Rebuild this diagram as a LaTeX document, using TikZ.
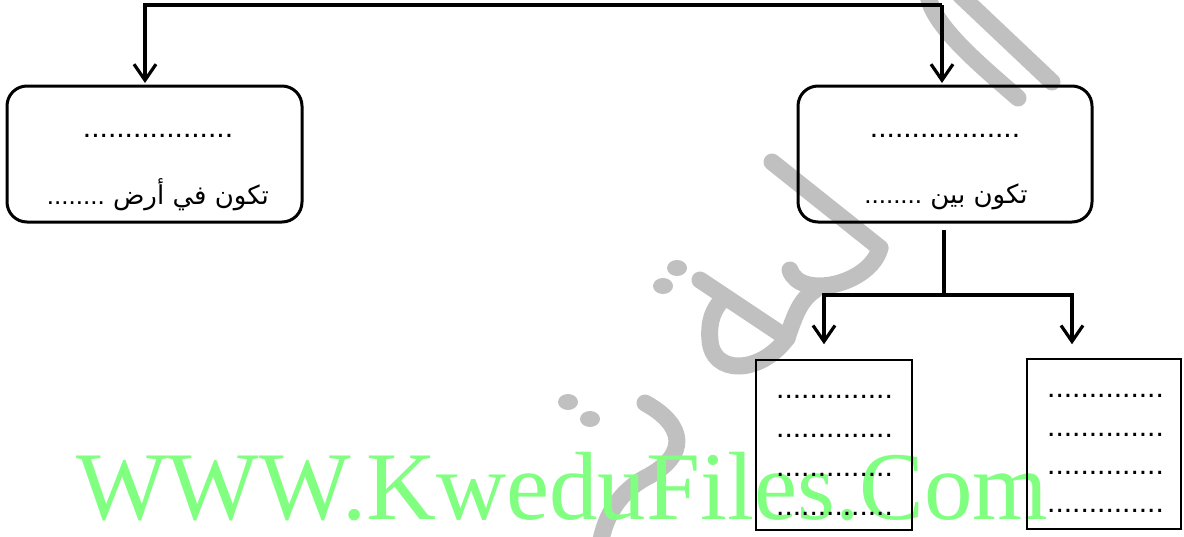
\documentclass[tikz,border=0pt]{standalone}
\usepackage{fontspec}
\usetikzlibrary{arrows.meta}
\TeXXeTstate=1
\newfontfamily\arabicfont[Script=Arabic]{DejaVu Sans}
\newfontfamily\dotsfont{Liberation Sans}
\newfontfamily\wmfont{Liberation Serif}
\definecolor{wmgray}{RGB}{192,192,192}
\definecolor{wmgreen}{RGB}{128,255,128}
\begin{document}
\begin{tikzpicture}[x=1pt,y=-1pt,
  roundbox/.style={draw, line width=3pt, rounded corners=20pt, minimum width=295pt, minimum height=136pt, inner sep=0pt},
  listbox/.style={draw, line width=1.5pt, minimum height=170pt, inner sep=0pt},
  conn/.style={line width=3.2pt},
  arr/.style={conn, -{Straight Barb[length=16pt,width=22pt]}},
  dotline/.style={font=\dotsfont\fontsize{30}{36}\selectfont, anchor=base, inner sep=0pt},
  arline/.style={font=\arabicfont\fontsize{26}{32}\selectfont, anchor=base, inner sep=0pt},
  wm/.style={wmgray, line width=17pt, line cap=round}]
\useasboundingbox (0,0) rectangle (1184,536);
% background watermark strokes
\draw[wm] (928,-5) .. controls (932,25) and (980,65) .. (1018,98);
\draw[wm] (960,-5) -- (1052,82);
\draw[wm] (772,162) -- (880,248);
\draw[wm] (880,248) .. controls (870,285) and (800,300) .. (790,270);
\draw[wm] (787,338) .. controls (795,315) and (800,300) .. (815,290);
\draw[wm] (700,280) -- (787,338);
\draw[wm] (787,338) .. controls (760,375) and (712,375) .. (710,340) .. controls (708,320) and (715,305) .. (725,298);
\fill[wmgray] (677,268) ellipse [x radius=10pt, y radius=8pt];
\fill[wmgray] (663,286) ellipse [x radius=10pt, y radius=8pt];
\fill[wmgray] (568,402) ellipse [x radius=10pt, y radius=8pt];
\fill[wmgray] (590,419) ellipse [x radius=10pt, y radius=8pt];
\draw[wm] (645,403) .. controls (685,425) and (690,455) .. (645,478) .. controls (620,492) and (605,515) .. (600,545);
% green watermark text
\node[font=\wmfont\fontsize{97}{110}\selectfont, text=wmgreen, anchor=base west, inner sep=0pt] (site) at (76,519) {WWW.KweduFiles.Com};
% boxes
\node[roundbox] (lb) at (154.5,154) {};
\node[roundbox, minimum width=294pt] (rb) at (945,154) {};
\node[listbox, minimum width=156pt] (ll) at (834,445) {};
\node[listbox, minimum width=154pt] (lr) at (1104,444) {};
% texts in upper boxes
\node[dotline] (lbd) at (158,137) {..................};
\node[arline] (lbt) at (158,204) {\beginR تكون في أرض {\dotsfont ........}\endR};
\node[dotline] (rbd) at (945,137) {..................};
\node[arline] (rbt) at (946,203) {\beginR تكون بين {\dotsfont ........}\endR};
% texts in lower boxes
\node[dotline] (lla) at (834.5,398.5) {..............};
\node[dotline] (llb) at (834.5,437.5) {..............};
\node[dotline] (llc) at (834.5,476.5) {..............};
\node[dotline] (lld) at (834.5,515.5) {..............};
\node[dotline] (lra) at (1105.5,397.5) {..............};
\node[dotline] (lrb) at (1105.5,436) {..............};
\node[dotline] (lrc) at (1105.5,474.5) {..............};
\node[dotline] (lrd) at (1105.5,512.5) {..............};
% connectors
\coordinate (tl) at (145,5);
\coordinate (tr) at (942,5);
\draw[arr, shorten >=1.5pt] (tr) -- (tl) -- (tl |- lb.north);
\draw[arr, shorten >=1.5pt] (tr) -- (tr |- rb.north);
\coordinate (stem) at (944,230);
\coordinate (fork) at (944,295);
\coordinate (fl) at (824,295);
\coordinate (fr) at (1072,295);
\draw[arr, shorten >=15pt] (fork) -- (fl) -- (fl |- ll.north);
\draw[arr, shorten >=14pt] (stem) -- (fork) -- (fr) -- (fr |- lr.north);
\end{tikzpicture}
\end{document}
